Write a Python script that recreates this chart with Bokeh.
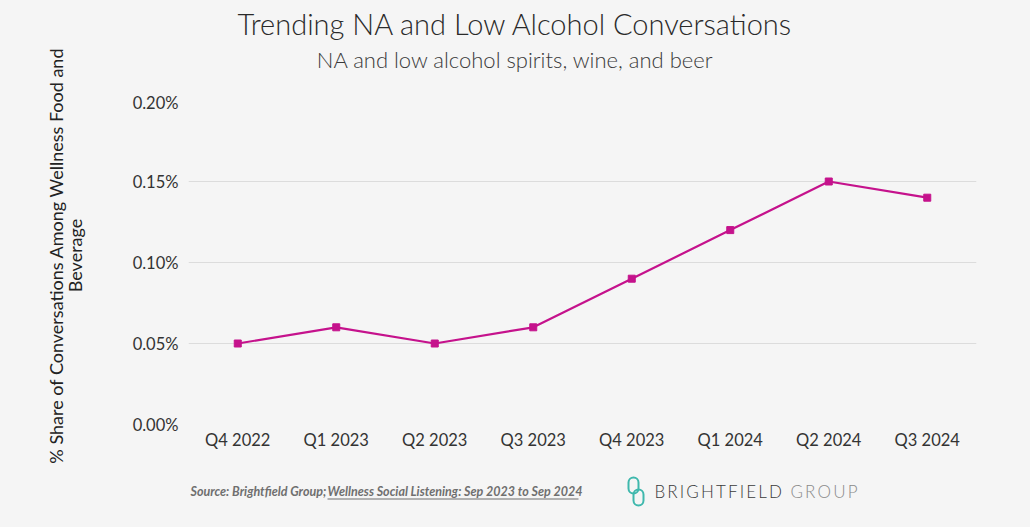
import math
from bokeh.plotting import figure
from bokeh.layouts import column, row
from bokeh.models import Label, BoxAnnotation, NumeralTickFormatter, FixedTicker, Range1d
from bokeh.embed import file_html
from bokeh.resources import INLINE

quarters = ["Q4 2022", "Q1 2023", "Q2 2023", "Q3 2023", "Q4 2023", "Q1 2024", "Q2 2024", "Q3 2024"]
share = [0.0005, 0.0006, 0.0005, 0.0006, 0.0009, 0.0012, 0.0015, 0.0014]
y_ticks = [0.0, 0.0005, 0.0010, 0.0015, 0.0020]

title_text = "Trending NA and Low Alcohol Conversations"
subtitle_text = "NA and low alcohol spirits, wine, and beer"
ylabel_lines = ["% Share of Conversations Among Wellness Food and", "Beverage"]
source_plain = "Source: Brightfield Group;"
source_link = "Wellness Social Listening:  Sep 2023 to Sep 2024"
logo_main = "\u2009".join("BRIGHTFIELD")
logo_tail = "\u2009".join("GROUP")

H = 527
LW = 100            # width of the left strip holding the y-axis title
W = 1030 - LW       # width of the chart column
FL = 188 - LW       # chart frame left inside the column
BG = "#f5f5f5"
FONT = "Lato"


def blank(width, height):
    f = figure(width=width, height=height, x_range=Range1d(0, 1), y_range=Range1d(0, 1),
               output_backend="svg", toolbar_location=None,
               min_border=0, min_border_left=0, min_border_right=0,
               min_border_top=0, min_border_bottom=0)
    f.axis.visible = False
    f.grid.visible = False
    f.outline_line_color = None
    f.background_fill_color = BG
    f.border_fill_color = BG
    return f


def lab(fig, text, x, y, size, color="#333333", style="normal", align="center",
        base="middle", angle=0.0, font=FONT):
    fig.add_layout(Label(x=x, y=y, x_units="screen", y_units="screen", text=text,
                         text_font=font, text_font_size=size, text_color=color,
                         text_font_style=style, text_align=align, text_baseline=base, angle=angle))


def sbox(fig, l, r, b, t, **kw):
    fig.add_layout(BoxAnnotation(left=l, right=r, bottom=b, top=t,
                                 left_units="screen", right_units="screen",
                                 bottom_units="screen", top_units="screen", **kw))


# left strip: y-axis title
ystrip = blank(LW, H)
lab(ystrip, ylabel_lines[0], 55, 272, "18px", color="#222222", angle=math.pi / 2)
lab(ystrip, ylabel_lines[1], 74, 272, "18px", color="#222222", angle=math.pi / 2)

# header (x measured from the chart frame's left edge at 188)
header = blank(W, 92)
lab(header, title_text, 515 - 188, 69, "29px", color="#2a2a2a", font="Lato Light")
lab(header, subtitle_text, 515 - 188, 33, "22px", color="#3a3a3a", font="Lato Light")

# main chart
p = figure(x_range=quarters, y_range=Range1d(0, 0.002), width=W, height=372,
           output_backend="svg", toolbar_location=None,
           min_border_left=FL, min_border_right=54, min_border_top=8, min_border_bottom=40)
p.background_fill_color = BG
p.border_fill_color = BG
p.outline_line_color = None

p.line(quarters, share, line_color="#c5128c", line_width=2.2)
p.scatter(quarters, share, marker="square", size=7, fill_color="#c5128c", line_color="#c5128c")

p.yaxis.ticker = FixedTicker(ticks=y_ticks)
p.yaxis.formatter = NumeralTickFormatter(format="0.00%")
for ax in (p.xaxis, p.yaxis):
    ax.axis_line_color = None
    ax.major_tick_line_color = None
    ax.minor_tick_line_color = None
    ax.major_tick_out = 0
    ax.major_tick_in = 0
    ax.minor_tick_out = 0
    ax.major_label_text_font = FONT
    ax.major_label_text_font_size = "16.5px"
    ax.major_label_text_color = "#333333"
p.yaxis.major_label_standoff = 10
p.xaxis.major_label_standoff = 5
p.xgrid.grid_line_color = None
p.ygrid.grid_line_color = "#dcdcdc"
p.ygrid.grid_line_width = 1

# footer (x measured from the chart frame's left edge at 188)
footer = blank(W, 63)
lab(footer, source_plain, 190 - 188, 36, "12.5px", color="#6f6f6f", style="bold italic", align="left")
lab(footer, source_link, 327 - 188, 36, "12.5px", color="#6f6f6f", style="bold italic", align="left")
sbox(footer, 327 - 188, 578 - 188, 28, 29, fill_color="#6f6f6f", fill_alpha=1, line_color=None)

sbox(footer, 628 - 188, 638 - 188, 34, 50, fill_alpha=0, line_color="#3fb8ad", line_alpha=1,
     line_width=2, border_radius=5)
sbox(footer, 633 - 188, 643 - 188, 22, 38, fill_alpha=0, line_color="#3fb8ad", line_alpha=1,
     line_width=2, border_radius=5)
lab(footer, logo_main, 654 - 188, 36, "17px", color="#3a3a3a", align="left", font="Lato Light")
lab(footer, logo_tail, 790 - 188, 36, "17px", color="#8a8a8a", align="left", font="Lato Light")

col = column(header, p, footer, spacing=0, styles={"background-color": BG})
layout = row(ystrip, col, spacing=0, styles={"background-color": BG})
open("out.html", "w").write(file_html(layout, INLINE))
